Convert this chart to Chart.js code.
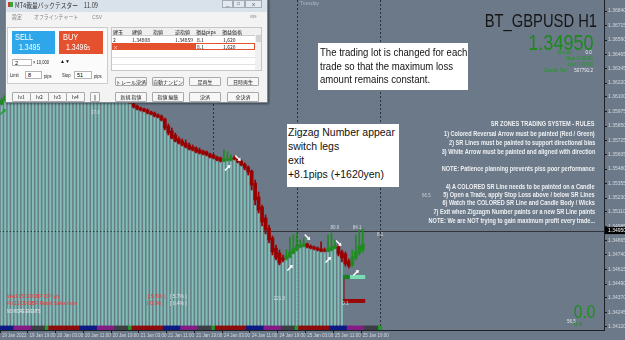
<!DOCTYPE html>
<html>
<head>
<meta charset="utf-8">
<script src="https://cdn.jsdelivr.net/npm/chart.js@4.4.1/dist/chart.umd.min.js"></script>
<style>
body { margin: 0; background: #6b7989; overflow: hidden; }
#wrap { position: relative; width: 625px; height: 340px; }
#priceChart { position: absolute; left: 0; top: 0; }
.t { position: absolute; white-space: nowrap; line-height: 1; font-family: "Liberation Sans", Arial, sans-serif; }
.sq { transform: scaleX(0.82); transform-origin: left center; }
.sqr { transform: scaleX(0.82); transform-origin: right center; }
.jp { font-family: "Noto Sans CJK JP", sans-serif; }
.box { position: absolute; }
.btn { position: absolute; background: #f7f7f7; border: 1px solid #a9a9a9; border-radius: 1px; box-sizing: border-box;
       font: 5px "Noto Sans CJK JP", sans-serif; color: #222; text-align: center; white-space: nowrap; overflow: hidden; }
.inp { position: absolute; background: #fff; border: 1px solid #b5b5b5; box-sizing: border-box; font: 5.5px "Liberation Sans", sans-serif; padding-left: 2px; }
.cell { position: absolute; font: 5px "Noto Sans CJK JP", sans-serif; color: #222; line-height: 7px; white-space: nowrap; }
.rule { right: 30px; color: #eef0f2; font-weight: bold; font-size: 6.8px; }
.note { position: absolute; background: #fff; color: #111; font: 11px "Liberation Sans", Arial, sans-serif; }
.note div { transform-origin: left center; white-space: nowrap; }
</style>
</head>
<body>
<div id="wrap">
  <canvas id="priceChart" width="625" height="340"></canvas>

  <!-- chart header -->
  <div class="t" style="left:300px;top:1px;font-size:5px;color:#aeb6c0;">Tuesday</div>
  <div class="t sqr" style="right:28px;top:12px;font-size:18px;color:#161616;">BT_GBPUSD H1</div>
  <div class="t sqr" style="right:31px;top:32px;font-size:22px;color:#1b8a1b;">1.34950</div>
  <div class="t sqr" style="right:53px;top:50px;font-size:5.5px;color:#1f9a1f;">Spread</div>
  <div class="t sqr" style="right:33px;top:50px;font-size:5.5px;color:#f2f2f2;">0.0</div>
  <div class="t sqr" style="right:32px;top:56px;font-size:5.5px;color:#1f9a1f;">High 0.00000</div>
  <div class="t sqr" style="right:32px;top:62px;font-size:5.5px;color:#1f9a1f;">Low 0.00000</div>
  <div class="t sqr" style="right:58px;top:68px;font-size:5.5px;color:#1f9a1f;">Candle Tim</div>
  <div class="t sqr" style="right:32px;top:68px;font-size:5.5px;color:#f2f2f2;">507791:2</div>

  <!-- notes -->
  <div class="note" style="left:318px;top:43px;width:150px;height:47px;">
    <div style="position:absolute;left:2px;top:3px;line-height:13.5px;transform:scaleX(0.87);">The trading lot is changed for each<br>trade so that the maximum loss<br>amount remains constant.</div>
  </div>
  <div class="note" style="left:287px;top:124px;width:112px;height:63px;">
    <div style="position:absolute;left:1px;top:1px;line-height:14px;transform:scaleX(0.95);">Zigzag Number appear<br>switch legs<br>exit<br>+8.1pips (+1620yen)</div>
  </div>

  <!-- rules -->
  <div class="t sqr rule" style="top:121px;">SR ZONES TRADING SYSTEM - RULES</div>
  <div class="t sqr rule" style="top:131px;">1) Colored Reversal Arrow must be painted (Red / Green)</div>
  <div class="t sqr rule" style="top:140px;">2) SR Lines must be painted to support directional bias</div>
  <div class="t sqr rule" style="top:149px;">3) White Arrow must be painted and aligned with direction</div>
  <div class="t sqr rule" style="top:166px;">NOTE: Patience planning prevents piss poor performance</div>
  <div class="t sqr rule" style="top:184px;">4) A COLORED SR Line needs to be painted on a Candle</div>
  <div class="t sqr rule" style="top:192px;">5) Open a Trade, apply Stop Loss above / below SR Lines</div>
  <div class="t sqr rule" style="top:200px;">6) Watch the COLORED SR Line and Candle Body / Wicks</div>
  <div class="t sqr rule" style="top:209px;">7) Exit when Zigzagm Number paints or a new SR Line paints</div>
  <div class="t sqr rule" style="top:218px;">NOTE: We are NOT trying to gain maximum profit every trade...</div>
  <div class="t" style="left:422px;top:194px;font-size:4.5px;color:#d0d4d8;">66.5</div>

  <!-- news -->
  <div class="t sq" style="left:7px;top:293px;font-size:6px;color:#ff3030;">Wed 15:00 GBP CPI y/y</div>
  <div class="t sq" style="left:7px;top:300px;font-size:6px;color:#ff3030;">Fri 15:00 GBP Retail Sales m/m</div>
  <div class="t sq" style="left:148px;top:293px;font-size:6px;color:#ff3030;">[ 5.5% ]</div>
  <div class="t sq" style="left:170px;top:293px;font-size:6px;color:#dfe2e6;">[ 5.7% ]</div>
  <div class="t sq" style="left:147px;top:300px;font-size:6px;color:#ff3030;">[-0.3% ]</div>
  <div class="t sq" style="left:170px;top:300px;font-size:6px;color:#dfe2e6;">[ 0.4% ]</div>
  <div class="t sq" style="left:7px;top:310px;font-size:4.5px;color:#f0f0f0;">NO MORE EVENTS</div>

  <!-- bottom right -->
  <div class="t sqr" style="right:30px;top:302px;font-size:19px;color:#1d8f1d;">0.0</div>
  <div class="t" style="left:567px;top:320px;font-size:4.5px;color:#e8e8e8;">56.5</div>
  <div class="t" style="left:574px;top:321px;font-size:6px;color:#1d8f1d;">0.0</div>

  <!-- backtester window -->
  <div class="box" style="left:5px;top:-1px;width:263px;height:104px;background:#d9e1ea;border:1px solid #7d8791;box-sizing:border-box;box-shadow:1px 1px 2px rgba(0,0,0,.45);"></div>
  <div class="box" style="left:8px;top:2px;width:5px;height:5px;background:linear-gradient(90deg,#d33 50%,#3a3 50%);"></div>
  <div class="t jp sq" style="left:15px;top:2px;font-size:7px;color:#333;">MT4裁量バックテスター　11.09</div>
  <div class="box" style="left:222px;top:0px;width:11px;height:8px;border:1px solid #a4adb6;box-sizing:border-box;background:#e3e9ef;"></div>
  <div class="box" style="left:233px;top:0px;width:12px;height:8px;border:1px solid #a4adb6;box-sizing:border-box;background:#e3e9ef;"></div>
  <div class="box" style="left:245px;top:0px;width:17px;height:8px;border:1px solid #a4adb6;box-sizing:border-box;background:#e3e9ef;"></div>
  <div class="t" style="left:226px;top:1px;font-size:6px;color:#555;">_</div>
  <div class="t" style="left:237px;top:1px;font-size:5px;color:#555;">□</div>
  <div class="t" style="left:252px;top:1px;font-size:6px;color:#555;">x</div>
  <div class="box" style="left:6px;top:12px;width:261px;height:90px;background:#f3f3f3;"></div>
  <div class="t jp sq" style="left:12px;top:14px;font-size:6px;color:#8a8a8a;">設定</div>
  <div class="t jp sq" style="left:34px;top:14px;font-size:6px;color:#8a8a8a;">オフラインチャート</div>
  <div class="t sq" style="left:92px;top:14px;font-size:6px;color:#8a8a8a;">CSV</div>
  <div class="t sq" style="left:250px;top:15px;font-size:4.5px;color:#8a8a8a;">size</div>

  <div class="box" style="left:7px;top:27px;width:101px;height:57px;background:#fbfbfb;border:1px solid #cdcdcd;box-sizing:border-box;"></div>
  <div class="box" style="left:12px;top:31px;width:43px;height:23px;background:#2ea7ea;"></div>
  <div class="box" style="left:59px;top:31px;width:44px;height:23px;background:#e4512e;"></div>
  <div class="t sq" style="left:15px;top:33px;font-size:9px;color:#fff;">SELL</div>
  <div class="t sq" style="left:19px;top:43px;font-size:8.5px;color:#fff;">1.3495</div>
  <div class="t sq" style="left:63px;top:33px;font-size:9px;color:#fff;">BUY</div>
  <div class="t sq" style="left:66px;top:43px;font-size:8.5px;color:#fff;">1.3496<span style="font-size:6px">5</span></div>
  <div class="inp" style="left:12px;top:59px;width:20px;height:7px;line-height:6px;">2</div>
  <div class="t sq" style="left:33px;top:60px;font-size:5px;color:#222;">× 10,000</div>
  <div class="t" style="left:60px;top:59px;font-size:5px;color:#111;">▲▼</div>
  <div class="t sq" style="left:10px;top:73px;font-size:5px;color:#222;">Limit</div>
  <div class="inp" style="left:25px;top:71px;width:17px;height:8px;line-height:7px;">8</div>
  <div class="t sq" style="left:44px;top:74px;font-size:5px;color:#222;">pips</div>
  <div class="t sq" style="left:62px;top:73px;font-size:5px;color:#222;">Stop</div>
  <div class="inp" style="left:74px;top:71px;width:18px;height:8px;line-height:7px;">51</div>
  <div class="t sq" style="left:94px;top:74px;font-size:5px;color:#222;">pips</div>

  <div class="btn" style="left:12px;top:92px;width:19px;height:10px;line-height:8px;">lv1</div>
  <div class="btn" style="left:30px;top:92px;width:19px;height:10px;line-height:8px;">lv2</div>
  <div class="btn" style="left:48px;top:92px;width:19px;height:10px;line-height:8px;">lv3</div>
  <div class="btn" style="left:66px;top:92px;width:19px;height:10px;line-height:8px;">lv4</div>
  <div class="btn" style="left:90px;top:92px;width:10px;height:10px;line-height:8px;">||</div>

  <div class="box" style="left:111px;top:27px;width:151px;height:44px;background:#fff;border:1px solid #c6c6c6;box-sizing:border-box;"></div>
  <div class="box" style="left:112px;top:28px;width:143px;height:7px;background:#f0f0f0;border-bottom:1px solid #ccc;"></div>
  <div class="box" style="left:112px;top:43px;width:83px;height:7px;background:#e4512e;"></div>
  <div class="box" style="left:195px;top:43px;width:60px;height:7px;border:1px solid #e4512e;box-sizing:border-box;"></div>
  <div class="box" style="left:112px;top:57px;width:143px;height:0;border-top:1px solid #e2e2e2;"></div>
  <div class="box" style="left:112px;top:64px;width:143px;height:0;border-top:1px solid #e2e2e2;"></div>
  <div class="box" style="left:255px;top:28px;width:6px;height:42px;background:#f0f0f0;"></div>
  <div class="box" style="left:256px;top:35px;width:5px;height:7px;background:#d2d2d2;"></div>
  <div class="cell" style="left:113px;top:28px;">建玉</div>
  <div class="cell" style="left:132px;top:28px;">建値</div>
  <div class="cell" style="left:153px;top:28px;">指値</div>
  <div class="cell" style="left:175px;top:28px;">逆指値</div>
  <div class="cell" style="left:196px;top:28px;">損益pips</div>
  <div class="cell" style="left:222px;top:28px;">損益価格</div>
  <div class="cell" style="left:113px;top:36px;">2</div>
  <div class="cell" style="left:132px;top:36px;">1.34808</div>
  <div class="cell" style="left:175px;top:36px;">1.34859</div>
  <div class="cell" style="left:197px;top:36px;">8.1</div>
  <div class="cell" style="left:223px;top:36px;">1,620</div>
  <div class="cell" style="left:113px;top:43px;color:#fff;">×</div>
  <div class="cell" style="left:197px;top:43px;">8.1</div>
  <div class="cell" style="left:223px;top:43px;">1,620</div>

  <div class="btn" style="left:115px;top:77px;width:32px;height:9px;line-height:7px;">トレール決済</div>
  <div class="btn" style="left:152px;top:77px;width:32px;height:9px;line-height:7px;">自動ナンピン</div>
  <div class="btn" style="left:189px;top:77px;width:32px;height:9px;line-height:7px;">足再生</div>
  <div class="btn" style="left:227px;top:77px;width:32px;height:9px;line-height:7px;">日時再生</div>
  <div class="btn" style="left:115px;top:92px;width:32px;height:10px;line-height:8px;">新規 指値</div>
  <div class="btn" style="left:152px;top:92px;width:32px;height:10px;line-height:8px;">指値 編集</div>
  <div class="btn" style="left:189px;top:92px;width:32px;height:10px;line-height:8px;">決済</div>
  <div class="btn" style="left:227px;top:92px;width:32px;height:10px;line-height:8px;">全決済</div>
</div>

<script>
// H1 bars, index 0 = 19 Jan 2022 11:00
const timeLabels = ['19 Jan 2022', '19 Jan 19:00', '20 Jan 03:00', '20 Jan 11:00', '20 Jan 19:00',
    '21 Jan 03:00', '21 Jan 11:00', '21 Jan 19:00', '24 Jan 03:00', '24 Jan 11:00', '24 Jan 19:00',
    '25 Jan 03:00', '25 Jan 11:00', '25 Jan 19:00'];
const labelEvery = 8;
const totalSlots = 174; // visible bar slots incl. chart shift

const priceTicks = [1.36840, 1.36715, 1.36590, 1.36465, 1.36345, 1.36220, 1.36100, 1.35975, 1.35850,
    1.35725, 1.35605, 1.35480, 1.35355, 1.35230, 1.35110, 1.34985, 1.34865, 1.34740, 1.34615,
    1.34490, 1.34370, 1.34245, 1.34120];
const priceMin = 1.34094;
const priceMax = 1.36935;
const bidPrice = 1.34950;

const opens = [1.36040, 1.36074, 1.36108, 1.36126, 1.36160, 1.36143, 1.36177, 1.36194, 1.36177, 1.36203,
    1.36229, 1.36212, 1.36194, 1.36212, 1.36229, 1.36203, 1.36177, 1.36194, 1.36160, 1.36143,
    1.36177, 1.36194, 1.36160, 1.36126, 1.36108, 1.36126, 1.36100, 1.36083, 1.36065, 1.36091,
    1.36117, 1.36100, 1.36126, 1.36108, 1.36091, 1.36074, 1.36091, 1.36074, 1.36040, 1.36022,
    1.36005, 1.35997, 1.35988, 1.35971, 1.35962, 1.35945, 1.35936, 1.35911, 1.35850, 1.35807,
    1.35773, 1.35739, 1.35721, 1.35704, 1.35687, 1.35670, 1.35661, 1.35644, 1.35635, 1.35627,
    1.35609, 1.35601, 1.35583, 1.35575, 1.35549, 1.35558, 1.35558, 1.35575, 1.35566, 1.35549,
    1.35523, 1.35497, 1.35463, 1.35359, 1.35239, 1.35153, 1.35058, 1.34972, 1.34886, 1.34800,
    1.34757, 1.34714, 1.34705, 1.34723, 1.34757, 1.34783, 1.34809, 1.34817, 1.34835, 1.34817,
    1.34809, 1.34800, 1.34792, 1.34783, 1.34774, 1.34783, 1.34800, 1.34809, 1.34766, 1.34749,
    1.34688, 1.34654, 1.34714, 1.34757, 1.34783];
const highs = [1.36091, 1.36117, 1.36143, 1.36177, 1.36177, 1.36194, 1.36212, 1.36203, 1.36212, 1.36246,
    1.36246, 1.36229, 1.36229, 1.36246, 1.36246, 1.36212, 1.36212, 1.36203, 1.36177, 1.36194,
    1.36212, 1.36203, 1.36177, 1.36143, 1.36143, 1.36143, 1.36117, 1.36100, 1.36108, 1.36126,
    1.36126, 1.36143, 1.36143, 1.36117, 1.36108, 1.36100, 1.36100, 1.36083, 1.36057, 1.36031,
    1.36014, 1.36005, 1.35997, 1.35979, 1.35971, 1.35954, 1.35945, 1.35919, 1.35868, 1.35833,
    1.35790, 1.35756, 1.35739, 1.35730, 1.35704, 1.35687, 1.35670, 1.35661, 1.35644, 1.35635,
    1.35618, 1.35609, 1.35592, 1.35583, 1.35644, 1.35627, 1.35601, 1.35592, 1.35575, 1.35558,
    1.35532, 1.35506, 1.35472, 1.35385, 1.35282, 1.35170, 1.35084, 1.34998, 1.34903, 1.34826,
    1.34783, 1.34740, 1.34783, 1.34895, 1.34912, 1.34929, 1.34869, 1.34886, 1.34843, 1.34826,
    1.34817, 1.34809, 1.34852, 1.34800, 1.34912, 1.34929, 1.34869, 1.34826, 1.34783, 1.34766,
    1.34705, 1.34783, 1.34912, 1.34955, 1.34964];
const lows = [1.36031, 1.36065, 1.36100, 1.36117, 1.36126, 1.36126, 1.36160, 1.36160, 1.36160, 1.36194,
    1.36194, 1.36177, 1.36177, 1.36203, 1.36194, 1.36160, 1.36160, 1.36143, 1.36126, 1.36126,
    1.36160, 1.36143, 1.36117, 1.36100, 1.36100, 1.36091, 1.36065, 1.36057, 1.36048, 1.36083,
    1.36091, 1.36091, 1.36100, 1.36083, 1.36065, 1.36065, 1.36065, 1.36048, 1.36005, 1.35988,
    1.35979, 1.35971, 1.35954, 1.35945, 1.35928, 1.35919, 1.35893, 1.35816, 1.35773, 1.35739,
    1.35713, 1.35695, 1.35678, 1.35661, 1.35644, 1.35635, 1.35618, 1.35609, 1.35601, 1.35592,
    1.35575, 1.35566, 1.35549, 1.35540, 1.35540, 1.35549, 1.35549, 1.35558, 1.35532, 1.35506,
    1.35472, 1.35428, 1.35299, 1.35170, 1.35101, 1.34989, 1.34921, 1.34843, 1.34740, 1.34697,
    1.34654, 1.34680, 1.34697, 1.34714, 1.34749, 1.34774, 1.34800, 1.34809, 1.34800, 1.34792,
    1.34783, 1.34774, 1.34766, 1.34766, 1.34766, 1.34774, 1.34792, 1.34731, 1.34680, 1.34645,
    1.34628, 1.34637, 1.34697, 1.34740, 1.34766];
const closes = [1.36074, 1.36108, 1.36126, 1.36160, 1.36143, 1.36177, 1.36194, 1.36177, 1.36203, 1.36229,
    1.36212, 1.36194, 1.36212, 1.36229, 1.36203, 1.36177, 1.36194, 1.36160, 1.36143, 1.36177,
    1.36194, 1.36160, 1.36126, 1.36108, 1.36126, 1.36100, 1.36083, 1.36065, 1.36091, 1.36117,
    1.36100, 1.36126, 1.36108, 1.36091, 1.36074, 1.36091, 1.36074, 1.36048, 1.36014, 1.35997,
    1.35988, 1.35979, 1.35962, 1.35954, 1.35936, 1.35928, 1.35902, 1.35833, 1.35790, 1.35747,
    1.35721, 1.35704, 1.35687, 1.35670, 1.35652, 1.35644, 1.35627, 1.35618, 1.35609, 1.35601,
    1.35583, 1.35575, 1.35558, 1.35549, 1.35566, 1.35566, 1.35575, 1.35566, 1.35540, 1.35515,
    1.35489, 1.35454, 1.35342, 1.35213, 1.35127, 1.35024, 1.34955, 1.34869, 1.34766, 1.34714,
    1.34671, 1.34697, 1.34731, 1.34766, 1.34792, 1.34817, 1.34826, 1.34835, 1.34809, 1.34800,
    1.34792, 1.34783, 1.34774, 1.34774, 1.34792, 1.34809, 1.34817, 1.34749, 1.34714, 1.34662,
    1.34645, 1.34723, 1.34766, 1.34817, 1.34835];

// teal histogram under price (bars 0..98)
const tealCount = 99;
const histBase = 1.34129;

// session band at the bottom: [session, bars]
const sessionRuns = [['b', 4], ['p', 5], ['g', 4],
    ['m', 1], ['r', 9], ['b', 5], ['p', 5], ['g', 4],
    ['m', 1], ['r', 9], ['b', 5], ['p', 5], ['g', 4],
    ['m', 1], ['r', 9], ['b', 5], ['p', 5], ['g', 4],
    ['m', 1], ['r', 9], ['b', 5], ['p', 5], ['g', 4],
    ['m', 1]];
const sessionColors = { r: '#8e0b0b', b: '#0c1a85', p: '#851b85', g: '#3c3e43', m: '#24962a' };

// signal arrows [bar, price]
const upArrows = [[65, 1.35489], [83, 1.34628], [94, 1.34697], [102, 1.34585]];
const downArrows = [[68, 1.35575], [88, 1.34895], [97, 1.34843]];
const reversalUp = [[0, 1.35971]];

// zigzag numbers [bar, price, text]
const zigzagLabels = [[27, 1.35962, '37.0'], [80, 1.34361, '221.8'], [96, 1.34972, '80.0'],
    [102.4, 1.34972, '84.1'], [109, 1.34912, '8.1'], [99, 1.34320, '0.1']];

// SR zones [fromBar, toBar, top, bottom, color]
const srZones = [[98.3, 100.3, 1.34568, 1.34533, '#1e7e22'], [100.3, 104.7, 1.34568, 1.34533, '#7adcb2'],
    [98.3, 104.7, 1.34361, 1.34327, '#9a0505']];
const srStem = [98.6, 1.34533, 1.34361];

const daySeparators = [61, 85, 109];

const bullColor = '#1e8c1e';
const bearColor = '#990000';
const bgColor = '#6b7989';

const slots = Array.from({ length: totalSlots }, (_, i) => i);
const candleColors = opens.map((o, i) => closes[i] >= o ? bullColor : bearColor);
const bodies = opens.map((o, i) => [o, closes[i]]);
const wicks = highs.map((h, i) => [lows[i], h]);
const hist = lows.slice(0, tealCount).map(l => [histBase, l]);

const band = [];
const bandColors = [];
sessionRuns.forEach(([s, n]) => {
    for (let k = 0; k < n; k++) {
        band.push([priceMin, histBase]);
        bandColors.push(sessionColors[s]);
    }
});

function drawArrow(ctx, x, y, up, color) {
    const d = up ? -1 : 1;
    ctx.save();
    ctx.strokeStyle = color;
    ctx.fillStyle = color;
    ctx.lineWidth = 1.4;
    ctx.beginPath();
    ctx.moveTo(x - 2.5, y - 2.5 * d);
    ctx.lineTo(x + 2, y + 2 * d);
    ctx.stroke();
    ctx.beginPath();
    ctx.moveTo(x + 3, y + 3 * d);
    ctx.lineTo(x - 0.5, y + 2.5 * d);
    ctx.lineTo(x + 2.5, y - 0.5 * d);
    ctx.closePath();
    ctx.fill();
    ctx.restore();
}

const mt4Overlay = {
    id: 'mt4Overlay',
    beforeDraw(chart) {
        const ctx = chart.ctx;
        ctx.save();
        ctx.fillStyle = bgColor;
        ctx.fillRect(0, 0, chart.width, chart.height);
        ctx.restore();
    },
    beforeDatasetsDraw(chart) {
        const { ctx, chartArea, scales: { x, y } } = chart;
        ctx.save();
        ctx.strokeStyle = '#2b3038';
        ctx.lineWidth = 1;
        ctx.setLineDash([2, 2]);
        daySeparators.forEach(i => {
            const px = Math.round(x.getPixelForValue(i)) + 0.5;
            ctx.beginPath();
            ctx.moveTo(px, chartArea.top);
            ctx.lineTo(px, chartArea.bottom);
            ctx.stroke();
        });
        ctx.setLineDash([]);
        const by = Math.round(y.getPixelForValue(bidPrice)) + 0.5;
        ctx.strokeStyle = '#30353d';
        ctx.beginPath();
        ctx.moveTo(chartArea.left, by);
        ctx.lineTo(chartArea.right, by);
        ctx.stroke();
        ctx.restore();
    },
    afterDatasetsDraw(chart) {
        const { ctx, scales: { x, y } } = chart;
        ctx.save();
        srZones.forEach(([a, b, top, bottom, color]) => {
            const x0 = x.getPixelForValue(a), x1 = x.getPixelForValue(b);
            const y0 = y.getPixelForValue(top), y1 = y.getPixelForValue(bottom);
            ctx.fillStyle = color;
            ctx.fillRect(x0, y0, x1 - x0, y1 - y0);
        });
        ctx.strokeStyle = '#8a0a0a';
        ctx.lineWidth = 1;
        const sx = x.getPixelForValue(srStem[0]);
        ctx.beginPath();
        ctx.moveTo(sx, y.getPixelForValue(srStem[1]));
        ctx.lineTo(sx, y.getPixelForValue(srStem[2]));
        ctx.stroke();

        upArrows.forEach(([i, p]) => drawArrow(ctx, x.getPixelForValue(i), y.getPixelForValue(p), true, '#ffffff'));
        downArrows.forEach(([i, p]) => drawArrow(ctx, x.getPixelForValue(i), y.getPixelForValue(p), false, '#ffffff'));
        reversalUp.forEach(([i, p]) => drawArrow(ctx, x.getPixelForValue(i) + 1, y.getPixelForValue(p), true, '#22a02a'));

        ctx.font = '4.5px "Liberation Sans", Arial, sans-serif';
        ctx.fillStyle = '#d9dde2';
        ctx.textAlign = 'center';
        ctx.textBaseline = 'middle';
        zigzagLabels.forEach(([i, p, t]) => ctx.fillText(t, x.getPixelForValue(i), y.getPixelForValue(p)));
        ctx.restore();
    },
    afterDraw(chart) {
        const { ctx, chartArea, scales: { y } } = chart;
        const by = y.getPixelForValue(bidPrice);
        ctx.save();
        ctx.fillStyle = '#000';
        ctx.fillRect(chartArea.right + 1, by - 3.5, 20, 7);
        ctx.fillStyle = '#fff';
        ctx.font = '5px "Liberation Sans", Arial, sans-serif';
        ctx.textBaseline = 'middle';
        ctx.fillText(bidPrice.toFixed(5), chartArea.right + 4, by);
        ctx.restore();
    }
};

new Chart(document.getElementById('priceChart'), {
    type: 'bar',
    data: {
        labels: slots,
        datasets: [
            {
                label: 'body', data: bodies, backgroundColor: candleColors,
                barThickness: 3, order: 1
            },
            {
                label: 'wick', data: wicks, backgroundColor: candleColors,
                barThickness: 1, order: 2
            },
            {
                label: 'session', data: band, backgroundColor: bandColors,
                barPercentage: 1, categoryPercentage: 1, order: 3
            },
            {
                label: 'hist', data: hist, backgroundColor: '#7fc0b5',
                barThickness: 1.3, order: 4
            }
        ]
    },
    options: {
        responsive: false,
        animation: false,
        layout: { padding: 0 },
        datasets: { bar: { grouped: false } },
        plugins: { legend: { display: false }, tooltip: { enabled: false } },
        scales: {
            x: {
                offset: true,
                grid: {
                    drawOnChartArea: false, tickLength: 3,
                    color: c => (c.index % labelEvery === 0 && c.index / labelEvery < timeLabels.length) ? '#1d2127' : 'transparent'
                },
                border: { color: '#1d2127' },
                ticks: {
                    autoSkip: false, maxRotation: 0, minRotation: 0, align: 'start', padding: 0,
                    color: '#d5d9de', font: { size: 4.5, family: 'Liberation Sans' },
                    callback: (v, i) => (i % labelEvery === 0 && timeLabels[i / labelEvery]) ? timeLabels[i / labelEvery] : ''
                },
                afterFit: s => { s.height = 10; s.paddingLeft = 0; s.paddingRight = 0; }
            },
            y: {
                position: 'right',
                min: priceMin,
                max: priceMax,
                afterBuildTicks: s => { s.ticks = priceTicks.map(v => ({ value: v })); },
                grid: { drawOnChartArea: false, tickLength: 3, color: '#1d2127' },
                border: { color: '#1d2127' },
                ticks: {
                    padding: 1, color: '#d5d9de', font: { size: 5, family: 'Liberation Sans' },
                    callback: v => v.toFixed(5)
                },
                afterFit: s => { s.width = 21; s.paddingTop = 0; s.paddingBottom = 0; }
            }
        }
    },
    plugins: [mt4Overlay]
});
</script>
</body>
</html>
